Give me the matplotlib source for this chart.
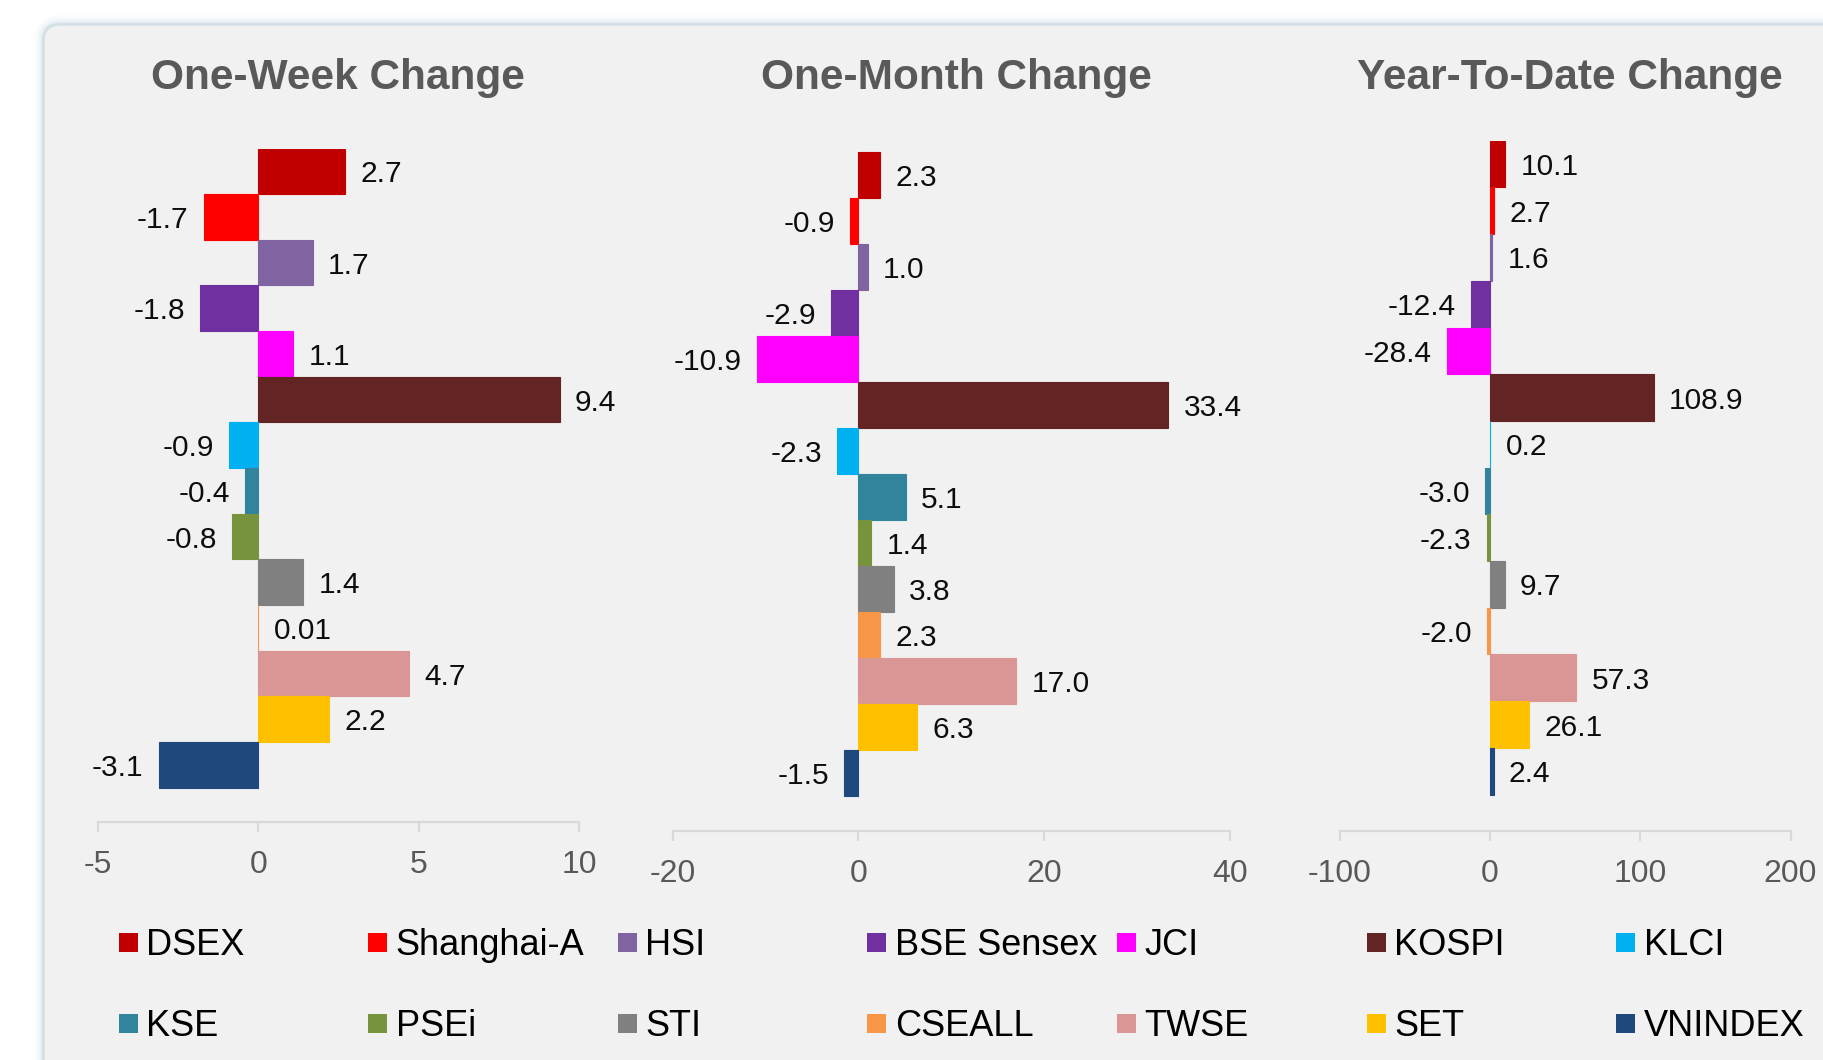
import matplotlib
matplotlib.use("Agg")
import matplotlib.pyplot as plt
import numpy as np
from matplotlib.patches import FancyBboxPatch, Rectangle
from matplotlib.transforms import IdentityTransform

plt.rcParams['font.family'] = ['Liberation Sans', 'DejaVu Sans']

# data
indices = ['DSEX', 'Shanghai-A', 'HSI', 'BSE Sensex', 'JCI', 'KOSPI', 'KLCI',
           'KSE', 'PSEi', 'STI', 'CSEALL', 'TWSE', 'SET', 'VNINDEX']
colors = ['#C00000', '#FF0000', '#8064A2', '#7030A0', '#FF00FF', '#632523', '#00B0F0',
          '#31849B', '#77933C', '#808080', '#F79646', '#D99694', '#FFC000', '#1F497D']

week_change = [2.7, -1.7, 1.7, -1.8, 1.1, 9.4, -0.9, -0.4, -0.8, 1.4, 0.01, 4.7, 2.2, -3.1]
week_labels = ['2.7', '-1.7', '1.7', '-1.8', '1.1', '9.4', '-0.9', '-0.4', '-0.8', '1.4',
               '0.01', '4.7', '2.2', '-3.1']
month_change = [2.3, -0.9, 1.0, -2.9, -10.9, 33.4, -2.3, 5.1, 1.4, 3.8, 2.3, 17.0, 6.3, -1.5]
ytd_change = [10.1, 2.7, 1.6, -12.4, -28.4, 108.9, 0.2, -3.0, -2.3, 9.7, -2.0, 57.3, 26.1, 2.4]

week_ticks = [-5, 0, 5, 10]
month_ticks = [-20, 0, 20, 40]
ytd_ticks = [-100, 0, 100, 200]

W, H = 1823, 1060
fig = plt.figure(figsize=(W / 100, H / 100), dpi=100)
fig.patch.set_facecolor('white')

# panel with soft glow
for lw, a in [(14, 0.06), (9, 0.10), (5, 0.18), (2.5, 0.35)]:
    fig.add_artist(FancyBboxPatch((44, -60), 1900, H - 25 + 60,
                                  boxstyle='round,pad=0,rounding_size=16',
                                  transform=IdentityTransform(), facecolor='none',
                                  edgecolor='#A9C4D2', lw=lw, alpha=a, zorder=0))
fig.add_artist(FancyBboxPatch((44, -60), 1900, H - 25 + 60,
                              boxstyle='round,pad=0,rounding_size=16',
                              transform=IdentityTransform(), facecolor='#F1F1F1',
                              edgecolor='#D3DFE6', lw=1, zorder=0))


def px_axes(x0, x1, top, bottom):
    return [x0 / W, 1 - bottom / H, (x1 - x0) / W, (bottom - top) / H]


panels = [
    ('One-Week Change', week_change, week_labels, week_ticks,
     px_axes(97.7, 579, 148.5, 822), 0.75, 0),
    ('One-Month Change', month_change, [f'{v:.1f}' for v in month_change], month_ticks,
     px_axes(672.8, 1229.6, 151.5, 831), 0.77, 5),
    ('Year-To-Date Change', ytd_change, [f'{v:.1f}' for v in ytd_change], ytd_ticks,
     px_axes(1339.7, 1790.5, 140.7, 831), 0.78, 5),
]

y = np.arange(len(indices))
for title, vals, labels, ticks, pos, extra, tdx in panels:
    ax = fig.add_axes(pos)
    ax.set_facecolor('none')
    ax.barh(y, vals, height=1.0, color=colors, edgecolor=colors, linewidth=0.8)
    ax.set_xlim(ticks[0], ticks[-1])
    ax.set_ylim(len(indices) - 0.5 + extra, -0.5)
    ax.set_xticks(ticks)
    ax.set_xticklabels([str(t) for t in ticks])
    ax.set_yticks([])
    for s in ['left', 'right', 'top']:
        ax.spines[s].set_visible(False)
    ax.spines['bottom'].set_color('#D9D9D9')
    ax.spines['bottom'].set_linewidth(1.6)
    ax.tick_params(axis='x', direction='out', length=7, width=1.6, color='#D9D9D9',
                   labelcolor='#595959', labelsize=23, pad=13)
    for yi, v, lab in zip(y, vals, labels):
        off = 11 if v >= 0 else -11
        ax.annotate(lab, (v, yi), xytext=(off, 0), textcoords='offset points',
                    ha='left' if v >= 0 else 'right', va='center_baseline',
                    fontsize=21.5, color='#0D0D0D')
    cx = pos[0] + pos[2] / 2 + tdx / W
    fig.text(cx, 1 - 89.5 / H, title, ha='center', va='baseline',
             fontsize=30.5, fontweight='bold', color='#595959')

# legend, two rows of seven
for i, (name, c) in enumerate(zip(indices, colors)):
    row, col = divmod(i, 7)
    xc = 128 + col * 249.6
    yc = 942 if row == 0 else 1023.5
    fig.add_artist(Rectangle(((xc - 9.5) / W, 1 - (yc + 9.5) / H), 19 / W, 19 / H,
                             transform=fig.transFigure, facecolor=c, edgecolor='none'))
    fig.text((xc + 18) / W, 1 - (yc + 13) / H, name, ha='left', va='baseline',
             fontsize=26, color='black')

fig.savefig('out.png', dpi=100, facecolor=fig.get_facecolor())
